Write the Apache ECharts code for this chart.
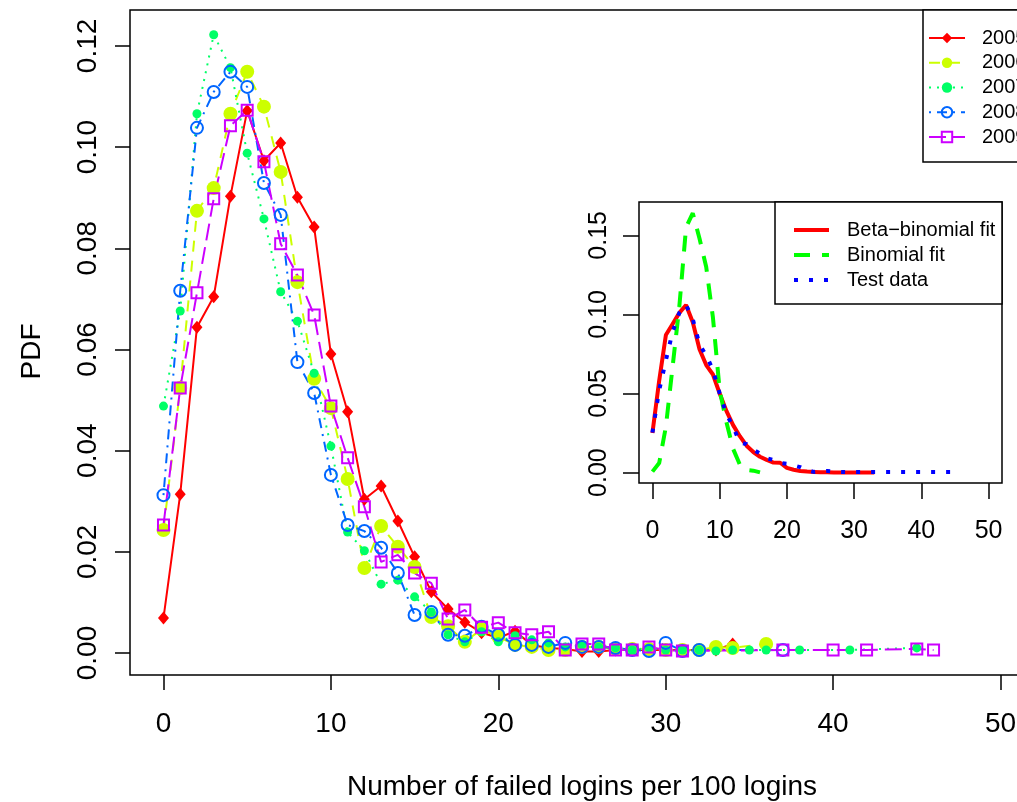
<!DOCTYPE html>
<html>
<head>
<meta charset="utf-8">
<script src="https://cdn.jsdelivr.net/npm/echarts@6/dist/echarts.min.js"></script>
<style>
html,body{margin:0;padding:0;background:#fff;}
#chart{width:1017px;height:802px;}
</style>
</head>
<body>
<div id="chart"></div>
<script>
// main plot: PDF of failed logins per 100 logins, one list of [x, pdf] per year
var years=['2005','2006','2007','2008','2009'];
var colors=['#FF0000','#CCFF00','#00FF66','#0066FF','#CC00FF'];

var pdf2005=[[0,0.0069],[1,0.0314],[2,0.0644],[3,0.0704],[4,0.0903],[5,0.1072],[6,0.0973],[7,0.1008],[8,0.0901],[9,0.0842],
	[10,0.0591],[11,0.0477],[12,0.0304],[13,0.0330],[14,0.0261],[15,0.0190],[16,0.0121],[17,0.0087],[18,0.0061],[19,0.0040],
	[20,0.0030],[21,0.0043],[22,0.0016],[23,0.0010],[24,0.0008],[25,0.0003],[26,0.0003],[27,0.0006],[28,0.0006],[29,0.0006],
	[30,0.0006],[31,0.0006],[32,0.0006],[33,0.0006],[34,0.0018]];
var pdf2006=[[0,0.0243],[1,0.0524],[2,0.0874],[3,0.0919],[4,0.1066],[5,0.1149],[6,0.1080],[7,0.0951],[8,0.0733],[9,0.0542],
	[10,0.0484],[11,0.0344],[12,0.0168],[13,0.0251],[14,0.0210],[15,0.0170],[16,0.0071],[17,0.0053],[18,0.0022],[19,0.0047],
	[20,0.0032],[21,0.0016],[22,0.0012],[23,0.0006],[24,0.0006],[25,0.0012],[26,0.0012],[27,0.0008],[28,0.0008],[29,0.0008],
	[30,0.0006],[31,0.0006],[32,0.0006],[33,0.0012],[34,0.0010],[36,0.0018]];
var pdf2007=[[0,0.0488],[1,0.0676],[2,0.1066],[3,0.1222],[4,0.1157],[5,0.0988],[6,0.0858],[7,0.0714],[8,0.0656],[9,0.0553],
	[10,0.0409],[11,0.0239],[12,0.0202],[13,0.0136],[14,0.0144],[15,0.0111],[16,0.0081],[17,0.0036],[18,0.0022],[19,0.0042],
	[20,0.0022],[21,0.0034],[22,0.0026],[23,0.0020],[24,0.0012],[25,0.0016],[26,0.0012],[27,0.0010],[28,0.0006],[29,0.0010],
	[30,0.0006],[31,0.0006],[32,0.0006],[33,0.0004],[34,0.0006],[35,0.0006],[36,0.0006],[38,0.0006],[41,0.0006],[45,0.0010]];
var pdf2008=[[0,0.0312],[1,0.0716],[2,0.1038],[3,0.1109],[4,0.1149],[5,0.1119],[6,0.0929],[7,0.0866],[8,0.0575],[9,0.0514],
	[10,0.0352],[11,0.0253],[12,0.0241],[13,0.0208],[14,0.0158],[15,0.0075],[16,0.0081],[17,0.0036],[18,0.0034],[19,0.0052],
	[20,0.0036],[21,0.0016],[22,0.0016],[23,0.0012],[24,0.0020],[25,0.0012],[26,0.0012],[27,0.0010],[28,0.0006],[29,0.0004],
	[30,0.0020],[31,0.0004],[32,0.0006],[37,0.0006]];
var pdf2009=[[0,0.0253],[1,0.0524],[2,0.0712],[3,0.0898],[4,0.1042],[5,0.1073],[6,0.0971],[7,0.0809],[8,0.0747],[9,0.0668],
	[10,0.0488],[11,0.0386],[12,0.0289],[13,0.0180],[14,0.0194],[15,0.0158],[16,0.0138],[17,0.0067],[18,0.0085],[19,0.0051],
	[20,0.0060],[21,0.0040],[22,0.0036],[23,0.0042],[24,0.0006],[25,0.0018],[26,0.0018],[27,0.0006],[28,0.0006],[29,0.0012],
	[30,0.0006],[31,0.0004],[37,0.0006],[40,0.0006],[42,0.0006],[45,0.0008],[46,0.0006]];

// inset: fits vs test data
var betaFit=[0.025,0.058,0.087,0.094,0.101,0.106,0.095,0.078,0.068,0.062,0.050,0.039,0.030,0.023,0.017,0.013,0.010,
	0.008,0.0063,0.0062,0.003,0.0018,0.001,0.0006,0.0004,0.0002,0.0002,0.0001,0.0001,0.0001,0.0001,0.0001,0.0001,0.0001];
var binomFit=[0.0006,0.006,0.029,0.067,0.105,0.155,0.164,0.148,0.130,0.098,0.052,0.032,0.015,0.005,0.0017,0.0012,0.0001];
var testData=[0.0253,0.052,0.071,0.089,0.101,0.106,0.097,0.081,0.074,0.065,0.050,0.037,0.029,0.019,0.018,0.0145,0.012,
	0.009,0.008,0.006,0.0055,0.0045,0.0034,0.0015,0.0004,0.0008,0.001,0.0006,0.0004,0.0003,0.0003,0.0003,0.0003,0.0003,
	0.0003,0.0003,0.0003,0.0003,0.0003,0.0003,0.0003,0.0003,0.0003,0.0003,0.0003,0.0003];

var mainTicksX=[0,10,20,30,40,50];
var mainTicksY=[0,0.02,0.04,0.06,0.08,0.10,0.12];
var insetTicksX=[0,10,20,30,40,50];
var insetTicksY=[0,0.05,0.10,0.15];

var FONT="'Liberation Sans', Arial, sans-serif";
function idx(arr){return arr.map(function(v,i){return [i,v];});}

var yearData=[pdf2005,pdf2006,pdf2007,pdf2008,pdf2009];
var yearSym=['diamond','circle','circle','circle','rect'];
var yearSize=[[11,13],14,9,12,11];
var yearDash=['solid',[11,9],[2,6],[2,6,10,6],[17,7]];
var yearFill=[colors[0],colors[1],colors[2],'rgba(0,0,0,0)','rgba(0,0,0,0)'];
var yearBorder=[0,0,0,2,2];

var mychart=echarts.init(document.getElementById('chart'));
var series=years.map(function(y,i){
	return {
		name:y,type:'line',xAxisIndex:0,yAxisIndex:0,
		data:yearData[i],symbol:yearSym[i],symbolSize:yearSize[i],showAllSymbol:true,
		itemStyle:{color:yearFill[i],borderColor:colors[i],borderWidth:yearBorder[i]},
		lineStyle:{color:colors[i],width:2,type:yearDash[i]}
	};
});
series.push(
	{name:'Beta−binomial fit',type:'line',xAxisIndex:1,yAxisIndex:1,data:idx(betaFit),symbol:'none',z:5,
		itemStyle:{color:'#FF0000'},lineStyle:{color:'#FF0000',width:4}},
	{name:'Binomial fit',type:'line',xAxisIndex:1,yAxisIndex:1,data:idx(binomFit),symbol:'none',z:5,
		itemStyle:{color:'#00FF00'},lineStyle:{color:'#00FF00',width:4,type:[16,12]}},
	{name:'Test data',type:'line',xAxisIndex:1,yAxisIndex:1,data:idx(testData),symbol:'none',z:5,
		itemStyle:{color:'#0000FF'},lineStyle:{color:'#0000FF',width:4,type:[4,11]}}
);

function tickFmt(v){return (+v).toFixed(2);}

var option={
	animation:false,
	backgroundColor:'#fff',
	textStyle:{fontFamily:FONT,color:'#000'},
	grid:[
		{left:130,top:10,width:904,height:665,show:true,borderColor:'#000',borderWidth:1.5,
			backgroundColor:'rgba(0,0,0,0)',outerBoundsMode:'none'},
		{left:639,top:202,width:363,height:281,show:true,borderColor:'#000',borderWidth:1.5,
			backgroundColor:'#fff',z:4,outerBoundsMode:'none'}
	],
	xAxis:[
		{type:'value',gridIndex:0,min:-2,max:52,splitLine:{show:false},axisLine:{show:false,onZero:false},
			axisTick:{show:true,inside:false,length:15,customValues:mainTicksX,lineStyle:{color:'#000',width:1.5}},
			axisLabel:{customValues:mainTicksX,fontSize:28,color:'#000',margin:35,fontFamily:FONT},
			name:'Number of failed logins per 100 logins',nameLocation:'middle',nameGap:98,
			nameTextStyle:{fontSize:28,color:'#000',fontFamily:FONT}},
		{type:'value',gridIndex:1,min:-2,max:52,splitLine:{show:false},axisLine:{show:false,onZero:false},z:5,
			axisTick:{show:true,inside:false,length:16,customValues:insetTicksX,lineStyle:{color:'#000',width:1.5}},
			axisLabel:{customValues:insetTicksX,fontSize:25,color:'#000',margin:36,fontFamily:FONT}}
	],
	yAxis:[
		{type:'value',gridIndex:0,min:-0.00435,max:0.1271,splitLine:{show:false},axisLine:{show:false,onZero:false},
			axisTick:{show:true,inside:false,length:15,customValues:mainTicksY,lineStyle:{color:'#000',width:1.5}},
			axisLabel:{customValues:mainTicksY,fontSize:28,color:'#000',margin:28,rotate:90,formatter:tickFmt,fontFamily:FONT},
			name:'PDF',nameLocation:'middle',nameGap:84,
			nameTextStyle:{fontSize:28,color:'#000',fontFamily:FONT,padding:[0,18,0,0]}},
		{type:'value',gridIndex:1,min:-0.0066,max:0.1711,splitLine:{show:false},axisLine:{show:false,onZero:false},z:5,
			axisTick:{show:true,inside:false,length:16,customValues:insetTicksY,lineStyle:{color:'#000',width:1.5}},
			axisLabel:{customValues:insetTicksY,fontSize:25,color:'#000',margin:27,rotate:90,formatter:tickFmt,fontFamily:FONT}}
	],
	graphic:[
		{type:'rect',z:6,shape:{x:923,y:10,width:130,height:152},style:{fill:'#fff',stroke:'#000',lineWidth:1.5}},
		{type:'rect',z:6,shape:{x:775,y:202,width:227,height:102},style:{fill:'#fff',stroke:'#000',lineWidth:1.5}}
	],
	legend:[
		{data:years,orient:'vertical',left:928,top:28,itemWidth:36,itemHeight:13,itemGap:4.75,padding:0,z:10,
			selectedMode:false,textStyle:{fontSize:20,lineHeight:20,color:'#000',fontFamily:FONT,padding:[0,0,0,12]}},
		{data:['Beta−binomial fit','Binomial fit','Test data'],orient:'vertical',left:792,top:220,itemWidth:35,itemHeight:18,
			itemGap:5,padding:0,z:10,selectedMode:false,itemStyle:{color:'rgba(0,0,0,0)',borderWidth:0},
			lineStyle:{width:4},
			textStyle:{fontSize:20,lineHeight:20,color:'#000',fontFamily:FONT,padding:[0,0,0,13]}}
	],
	series:series
};
mychart.setOption(option);
</script>
</body>
</html>
